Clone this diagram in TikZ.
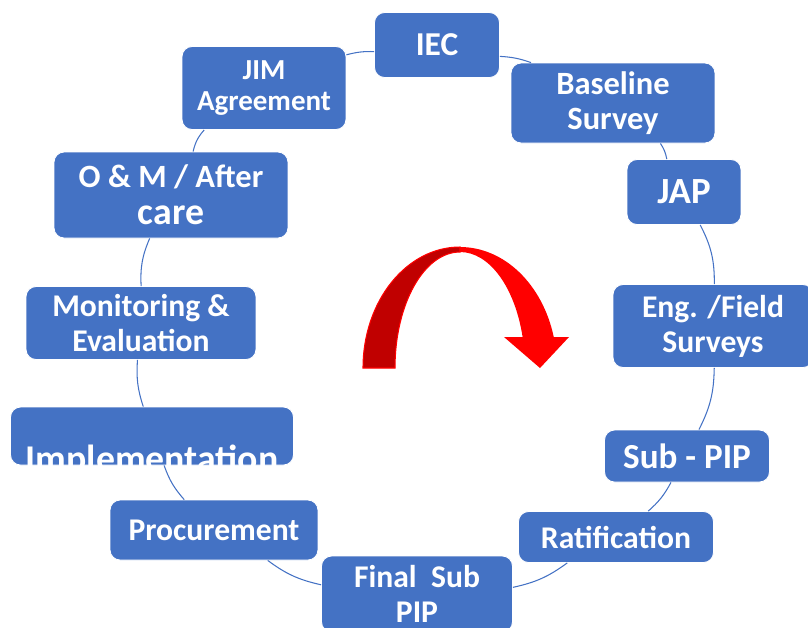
\documentclass[tikz,border=0pt]{standalone}
\usepackage{fontspec}
\setmainfont{Carlito}
\usepackage{tikz}
\usetikzlibrary{positioning}
\definecolor{StageBlau}{RGB}{68,114,196}
\definecolor{PfeilRot}{RGB}{255,0,0}
\definecolor{PfeilDunkel}{RGB}{192,0,0}

\newcommand{\fs}[2]{\fontsize{#1}{#2}\selectfont}

\tikzset{
    stage/.style={draw=white, line width=0.5pt, fill=StageBlau, rounded corners=0.2cm,
        text=white, font=\bfseries\fs{18}{20}, align=center, inner sep=0pt},
    cycleline/.style={draw=StageBlau, line width=0.6pt}
}

\begin{document}
\begin{tikzpicture}[x=0.02cm, y=-0.02cm]
\useasboundingbox (0,0) rectangle (808,627);

% stages of the cycle
\node[stage, minimum width=2.5cm, minimum height=1.3cm, font=\bfseries\fs{19}{21}] (iec) at (437,45) {IEC};
\node[stage, minimum width=4.08cm, minimum height=1.6cm, font=\bfseries\fs{18.5}{20}] (baseline) at (613,103) {Baseline\\Survey};
\node[stage, minimum width=2.28cm, minimum height=1.3cm, font=\bfseries\fs{21}{23}] (jap) at (684,192) {JAP};
\node[stage, minimum width=4.0cm, minimum height=1.66cm] (eng) at (713,326) {Eng. /Field\\Surveys};
\node[stage, minimum width=3.3cm, minimum height=1.04cm, font=\bfseries\fs{20}{22}] (subpip) at (687,456) {Sub - PIP};
\node[stage, minimum width=3.9cm, minimum height=1.02cm] (ratif) at (616,537) {Ratification};
\node[stage, minimum width=3.82cm, minimum height=1.52cm] (finalsub) at (417,594) {Final~ Sub\\PIP};
\node[stage, minimum width=4.16cm, minimum height=1.2cm] (procure) at (214,530) {Procurement};
\node[stage, minimum width=5.66cm, minimum height=1.16cm] (impl) at (152,436) {};
\node[text=white, font=\bfseries\fs{21.5}{23}, anchor=base] (impltext) at (152,471) {Implementation};
\node[stage, minimum width=4.6cm, minimum height=1.46cm] (monitor) at (141,323) {Monitoring \&\\Evaluation};
\node[stage, minimum width=4.68cm, minimum height=1.72cm, font=\bfseries\fs{18.5}{21}] (om) at (171,195) {O \& M / After\\{\fs{21.5}{23}care}};
\node[stage, minimum width=3.28cm, minimum height=1.66cm, font=\bfseries\fs{16.5}{18}] (jim) at (264,88) {JIM\\Agreement};

% ring between the stages
\foreach \a/\b/\ang in {iec/baseline/8, baseline/jap/11, jap/eng/14, eng/subpip/13,
    subpip/ratif/10, ratif/finalsub/12, finalsub/procure/12, procure/impl/11,
    impl/monitor/11, monitor/om/13, om/jim/14, jim/iec/8}
{
    \draw[cycleline] (\a) to[bend left=\ang] (\b);
}

% curved red arrow in the middle
\fill[PfeilDunkel, draw=PfeilRot, line width=0.6pt]
    (363,368) arc[start angle=180, end angle=270, x radius=97, y radius=121]
    -- (460,252) arc[start angle=270, end angle=180, x radius=65, y radius=116] -- cycle;
\fill[PfeilRot]
    (460,247) arc[start angle=270, end angle=345.2, x radius=97, y radius=121]
    -- (569,337) -- (540,368) -- (504,337) -- (522.6,337)
    arc[start angle=344.5, end angle=270, x radius=65, y radius=116] -- cycle;
\end{tikzpicture}
\end{document}
